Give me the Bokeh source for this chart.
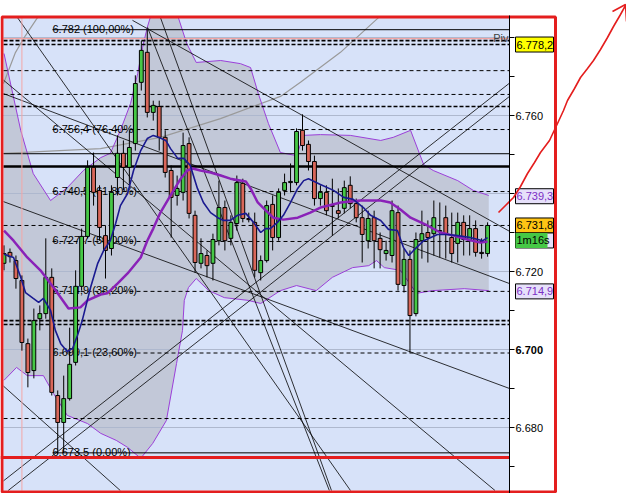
import numpy as np
from bokeh.plotting import figure
from bokeh.models import Range1d, LinearAxis, FixedTicker, NumeralTickFormatter
from bokeh.core.properties import value
from bokeh.embed import file_html
from bokeh.resources import INLINE

# ---------------- candle data (bar index = position) ----------------
opens = [6.7221, 6.7249, 6.7228, 6.7177, 6.7015, 6.6946, 6.7079, 6.7092, 6.7185, 6.6882,
         6.6813, 6.6874, 6.6967, 6.7162, 6.7290, 6.7467, 6.7408, 6.7292, 6.7259, 6.7441,
         6.7503, 6.7467, 6.7528, 6.7685, 6.7762, 6.7608, 6.7623, 6.7544, 6.7459, 6.7395,
         6.7403, 6.7528, 6.7344, 6.7221, 6.7241, 6.7221, 6.7279, 6.7364, 6.7285, 6.7323,
         6.7426, 6.7336, 6.7326, 6.7197, 6.7228, 6.7372, 6.7287, 6.7408, 6.7428, 6.7428,
         6.7562, 6.7526, 6.7482, 6.7387, 6.7403, 6.7369, 6.7356, 6.7362, 6.7421, 6.7374,
         6.7338, 6.7279, 6.7338, 6.7285, 6.7246, 6.7241, 6.7351, 6.7164, 6.7231, 6.7092,
         6.7279, 6.7300, 6.7297, 6.7305, 6.7338, 6.7287, 6.7272, 6.7326, 6.7279, 6.7310,
         6.7249, 6.7246]
highs = [6.7267, 6.7259, 6.7241, 6.7190, 6.7028, 6.7105, 6.7113, 6.7285, 6.7208, 6.6895,
         6.6933, 6.7056, 6.7203, 6.7310, 6.7485, 6.7505, 6.7421, 6.7318, 6.7421, 6.7549,
         6.7536, 6.7562, 6.7703, 6.7792, 6.7821, 6.7638, 6.7638, 6.7562, 6.7472, 6.7446,
         6.7556, 6.7544, 6.7356, 6.7285, 6.7254, 6.7297, 6.7433, 6.7382, 6.7344, 6.7446,
         6.7438, 6.7351, 6.7351, 6.7241, 6.7382, 6.7395, 6.7413, 6.7451, 6.7477, 6.7567,
         6.7603, 6.7536, 6.7497, 6.7421, 6.7421, 6.7438, 6.7413, 6.7433, 6.7444, 6.7387,
         6.7369, 6.7356, 6.7356, 6.7300, 6.7279, 6.7382, 6.7369, 6.7259, 6.7254, 6.7300,
         6.7356, 6.7331, 6.7382, 6.7377, 6.7369, 6.7351, 6.7351, 6.7344, 6.7344, 6.7331,
         6.7285, 6.7326]
lows = [6.7203, 6.7223, 6.7156, 6.6997, 6.6903, 6.6926, 6.7049, 6.7079, 6.6882, 6.6733,
        6.6735, 6.6869, 6.6959, 6.7151, 6.7285, 6.7369, 6.7279, 6.7182, 6.7241, 6.7395,
        6.7408, 6.7421, 6.7510, 6.7664, 6.7595, 6.7587, 6.7510, 6.7441, 6.7287, 6.7369,
        6.7382, 6.7336, 6.7197, 6.7208, 6.7185, 6.7177, 6.7267, 6.7254, 6.7267, 6.7305,
        6.7326, 6.7326, 6.7185, 6.7177, 6.7223, 6.7254, 6.7279, 6.7395, 6.7403, 6.7421,
        6.7510, 6.7459, 6.7369, 6.7369, 6.7344, 6.7292, 6.7336, 6.7349, 6.7362, 6.7326,
        6.7223, 6.7259, 6.7208, 6.7208, 6.7228, 6.7223, 6.7151, 6.7146, 6.6992, 6.7085,
        6.7233, 6.7223, 6.7241, 6.7236, 6.7233, 6.7223, 6.7223, 6.7241, 6.7241, 6.7238,
        6.7233, 6.7238]
closes = [6.7246, 6.7238, 6.7182, 6.7018, 6.6941, 6.7074, 6.7092, 6.7185, 6.6890, 6.6813,
          6.6874, 6.6962, 6.7162, 6.7290, 6.7467, 6.7403, 6.7313, 6.7254, 6.7403, 6.7503,
          6.7467, 6.7518, 6.7682, 6.7767, 6.7608, 6.7626, 6.7544, 6.7454, 6.7390, 6.7413,
          6.7523, 6.7349, 6.7223, 6.7246, 6.7215, 6.7282, 6.7364, 6.7279, 6.7326, 6.7428,
          6.7336, 6.7333, 6.7203, 6.7228, 6.7369, 6.7287, 6.7403, 6.7428, 6.7431, 6.7559,
          6.7523, 6.7482, 6.7387, 6.7403, 6.7356, 6.7367, 6.7349, 6.7415, 6.7374, 6.7338,
          6.7295, 6.7336, 6.7279, 6.7256, 6.7254, 6.7356, 6.7167, 6.7231, 6.7087, 6.7282,
          6.7297, 6.7287, 6.7338, 6.7303, 6.7297, 6.7246, 6.7326, 6.7282, 6.7310, 6.7249,
          6.7246, 6.7318]

# ---------------- indicators (bar, price) ----------------
ma_fast_x = [0, 1.6, 2.8, 3.6, 4.9, 5.8, 6.6, 7.8, 8.6, 9.5, 10.6, 11.5, 12.3, 13.1, 14.5, 15.7,
             16.7, 17.8, 18.7, 19.5, 20.7, 21.7, 22.9, 24.0, 25.0, 25.9, 27.1, 27.9, 29.1, 30.1,
             31.2, 32.4, 33.4, 34.6, 35.8, 36.8, 37.9, 39.1, 40.5, 41.8, 43.0, 43.8, 44.6, 45.8,
             46.8, 48.0, 49.2, 50.2, 51.0, 53.0, 55.2, 56.9, 58.5, 60.2, 61.4, 63.1, 64.4, 65.9,
             66.9, 67.8, 68.6, 70.3, 72.6, 74.3, 76.0, 78.1, 80.2, 81.0]
ma_fast_y = [6.7244, 6.7236, 6.7185, 6.7146, 6.7131, 6.7121, 6.7131, 6.7100, 6.7049, 6.7015,
             6.6995, 6.7003, 6.7036, 6.7074, 6.7159, 6.7221, 6.7254, 6.7279, 6.7323, 6.7369,
             6.7400, 6.7459, 6.7510, 6.7541, 6.7549, 6.7544, 6.7536, 6.7515, 6.7490, 6.7490,
             6.7472, 6.7413, 6.7377, 6.7351, 6.7338, 6.7331, 6.7331, 6.7344, 6.7349, 6.7326,
             6.7300, 6.7310, 6.7310, 6.7326, 6.7344, 6.7377, 6.7413, 6.7433, 6.7438, 6.7423,
             6.7408, 6.7390, 6.7385, 6.7364, 6.7344, 6.7331, 6.7308, 6.7305, 6.7262, 6.7241,
             6.7254, 6.7279, 6.7295, 6.7295, 6.7292, 6.7287, 6.7279, 6.7287]

ma_slow_x = [0, 1.6, 3.9, 6.1, 8.3, 10.8, 12.8, 14.0, 16.2, 17.3, 19.0, 20.7, 22.9, 24.0, 25.0,
             26.2, 27.9, 29.6, 30.7, 31.6, 32.9, 34.6, 36.3, 37.9, 40.5, 41.3, 42.5, 43.5, 45.1,
             46.8, 49.2, 51.3, 53.0, 56.4, 59.7, 63.1, 64.7, 66.4, 68.1, 70.9, 73.1, 75.3, 77.6,
             79.8, 81.0]
ma_slow_y = [6.7305, 6.7279, 6.7236, 6.7203, 6.7159, 6.7105, 6.7108, 6.7126, 6.7141, 6.7144,
             6.7169, 6.7195, 6.7236, 6.7279, 6.7310, 6.7351, 6.7395, 6.7438, 6.7459, 6.7464,
             6.7459, 6.7454, 6.7446, 6.7438, 6.7431, 6.7413, 6.7377, 6.7362, 6.7338, 6.7333,
             6.7338, 6.7351, 6.7364, 6.7377, 6.7382, 6.7382, 6.7377, 6.7359, 6.7338, 6.7318,
             6.7300, 6.7292, 6.7282, 6.7274, 6.7277]

bb_up_x = [0, 2.8, 4.9, 7.8, 10.6, 13.3, 16.2, 17.8, 19.5, 21.2, 22.4, 23.2, 24.0, 24.5, 27.1,
           29.2, 30.6, 32.2, 36.3, 39.6, 41.3, 42.6, 44.3, 46.3, 49.0, 50.2, 53.0, 58.0, 63.1,
           65.2, 68.1, 70.3, 71.9, 76.0, 78.6, 81.2]
bb_up_y = [6.7759, 6.7562, 6.7451, 6.7382, 6.7415, 6.7459, 6.7492, 6.7503, 6.7562, 6.7631,
           6.7708, 6.7774, 6.7826, 6.7864, 6.7882, 6.7864, 6.7785, 6.7736, 6.7741, 6.7733,
           6.7723, 6.7656, 6.7579, 6.7505, 6.7497, 6.7549, 6.7551, 6.7549, 6.7536, 6.7544,
           6.7562, 6.7474, 6.7459, 6.7433, 6.7408, 6.7395]

bb_lo_x = [0, 2.1, 3.9, 6.6, 8.3, 10.6, 14.0, 16.2, 18.8, 20.7, 22.9, 24.9, 27.2, 28.9, 29.9,
           30.2, 30.9, 32.2, 34.3, 36.9, 40.9, 43.0, 46.3, 49.0, 52.3, 55.0, 58.4, 61.1, 62.4,
           63.7, 66.4, 69.1, 71.8, 77.1, 81.2]
bb_lo_y = [6.6921, 6.6954, 6.6933, 6.6933, 6.6887, 6.6831, 6.6810, 6.6785, 6.6767, 6.6749,
           6.6721, 6.6759, 6.6818, 6.6964, 6.7049, 6.7126, 6.7159, 6.7182, 6.7151, 6.7133,
           6.7126, 6.7118, 6.7151, 6.7164, 6.7151, 6.7185, 6.7210, 6.7215, 6.7228, 6.7210,
           6.7203, 6.7144, 6.7151, 6.7156, 6.7151]

# ---------------- drawing objects ----------------
fib_prices = [6.7820, 6.7564, 6.7405, 6.7277, 6.7149, 6.6991, 6.6735]
fib_labels = ["6.782 (100,00%)", "6.756,4 (76,40%)", "6.740,5 (61,80%)", "6.727,7 (50,00%)",
              "6.714,9 (38,20%)", "6.699,1 (23,60%)", "6.673,5 (0,00%)"]

lvl_dashed_thin = [6.7715, 6.7654, 6.7318, 6.6823]
lvl_dashed_thick = [6.7792, 6.7782, 6.7623, 6.7074, 6.7064]
lvl_solid_thin = [6.7502]
lvl_solid_thick = [6.7469]
pivot_price = 6.7797
red_level = 6.6723
session_bar = 3.0

# trend / fan lines: (bar0, price0, bar1, price1)
trend_lines = [
    (-0.59, 6.7382, 84.68, 6.6900),
    (-0.59, 6.7659, 84.68, 6.7169),
    (21.52, 6.7844, 84.68, 6.7303),
    (24.04, 6.7826, 54.69, 6.6631),
    (2.26, 6.7851, 58.38, 6.6631),
    (-0.59, 6.7697, 82.83, 6.6631),
    (-2.76, 6.6631, 84.84, 6.7685),
    (0.08, 6.6631, 84.84, 6.7651),
    (26.21, 6.7851, 55.03, 6.6631),
    (-0.59, 6.6913, 19.51, 6.6638),
]
arc_big_x = [-0.08, 16.16, 26.21, 36.26, 46.31, 49.66, 56.36, 62.73]
arc_big_y = [6.7503, 6.7515, 6.7544, 6.7592, 6.7649, 6.7685, 6.7762, 6.7851]
arc_small_x = [-0.08, 1.93, 3.60, 5.61]
arc_small_y = [6.7682, 6.7762, 6.7805, 6.7851]

axis_ticks = [6.68, 6.70, 6.72, 6.74, 6.76, 6.78]
axis_minor = [6.67, 6.69, 6.71, 6.73, 6.75, 6.77]

box_prices = [6.7782, 6.7393, 6.7318, 6.7149]
box_texts = ["6.778,2", "6.739,3", "6.731,8", "6.714,9"]
box_fill = ["#FFFF00", "#E6E0FA", "#FFC414", "#E6E0FA"]
box_text_color = ["black", "#7B2FC4", "black", "#7B2FC4"]
timer_text = "1m16s"

# ---------------- pixel layout helpers ----------------
PX_BAR = 5.97
BAR0_PX = 3.5
PX_UNIT = 3900.0
P_REF, Y_REF = 6.700, 349.0
W, H = 626, 493


def bx(x):
    return (x - BAR0_PX) / PX_BAR


def py(y):
    return P_REF + (Y_REF - y) / PX_UNIT


PXP = 1.0 / PX_UNIT
XMIN, XMAX = bx(3), bx(509)
YMIN, YMAX = py(490), py(17)


def clip_seg(x0, y0, x1, y1):
    dx, dy = x1 - x0, y1 - y0
    t0, t1 = 0.0, 1.0
    for p_, q_ in ((-dx, x0 - XMIN), (dx, XMAX - x0), (-dy, y0 - YMIN), (dy, YMAX - y0)):
        if p_ == 0:
            if q_ < 0:
                return None
        else:
            t = q_ / p_
            if p_ < 0:
                t0 = max(t0, t)
            else:
                t1 = min(t1, t)
    if t0 > t1:
        return None
    return (x0 + t0 * dx, y0 + t0 * dy, x0 + t1 * dx, y0 + t1 * dy)


FONT = value("Liberation Sans")

p = figure(width=W, height=H, x_range=Range1d(bx(0), bx(W)), y_range=Range1d(py(H), py(0)),
           output_backend="svg", toolbar_location=None, tools="",
           x_axis_location=None, y_axis_location=None, min_border=0,
           background_fill_color="white", border_fill_color="white", outline_line_color=None)
p.grid.visible = False

# chart background
p.quad(left=[XMIN], right=[XMAX], bottom=[YMIN], top=[YMAX], fill_color="#D7E2F9", line_color=None)

# Bollinger band fill
up_y = np.clip(bb_up_y, YMIN, YMAX)
lo_y = np.clip(bb_lo_y, YMIN, YMAX)
band_x = list(bb_up_x) + list(bb_lo_x[::-1])
band_y = list(up_y) + list(lo_y[::-1])
band_x = [max(v, XMIN) for v in band_x]
p.patch(band_x, band_y, fill_color="#C2C8D8", line_color=None)

# faint grid at labelled ticks
p.segment(x0=[XMIN] * len(axis_ticks), y0=axis_ticks, x1=[XMAX] * len(axis_ticks), y1=axis_ticks,
          line_color="#AEB8CE", line_width=1)

# gray arcs
p.line([max(v, XMIN) for v in arc_big_x], arc_big_y, line_color="#9A9A9A", line_width=1.2)
p.line([max(v, XMIN) for v in arc_small_x], arc_small_y, line_color="#9A9A9A", line_width=1.2)

# band lines
p.line([max(v, XMIN) for v in bb_up_x], up_y, line_color="#9B3FD8", line_width=1)
p.line([max(v, XMIN) for v in bb_lo_x], lo_y, line_color="#9B3FD8", line_width=1)


def hlines(prices, x0, **kw):
    p.segment(x0=[x0] * len(prices), y0=prices, x1=[XMAX] * len(prices), y1=prices, **kw)


hlines([pivot_price], XMIN, line_color="#F2A4A4", line_width=1.2)
hlines(lvl_dashed_thin, XMIN, line_color="black", line_width=1, line_dash="4 3")
hlines(lvl_dashed_thick, XMIN, line_color="black", line_width=1.6, line_dash="4 2")
hlines(lvl_solid_thin, XMIN, line_color="black", line_width=1)
hlines(lvl_solid_thick, XMIN, line_color="black", line_width=2.5)
hlines([fib_prices[0], fib_prices[-1]], bx(52), line_color="black", line_width=1)
hlines(fib_prices[1:-1], bx(52), line_color="black", line_width=1, line_dash="4 3")

# fib labels
p.text(x=[bx(52)] * len(fib_prices), y=fib_prices, text=fib_labels, text_font=FONT,
       text_font_size="11px", text_color="black", text_baseline="alphabetic", y_offset=-1)
p.text(x=[bx(508)], y=[pivot_price], text=["Piv"], text_font=FONT, text_font_size="11px",
       text_color="#404040", text_align="right", text_baseline="alphabetic", y_offset=-1)

# trend lines
segs = [clip_seg(*tl) for tl in trend_lines]
segs = [s for s in segs if s is not None]
p.segment(x0=[s[0] for s in segs], y0=[s[1] for s in segs], x1=[s[2] for s in segs],
          y1=[s[3] for s in segs], line_color="black", line_width=0.8)

# session line
p.segment(x0=[session_bar], y0=[YMIN], x1=[session_bar], y1=[YMAX], line_color="#F4A6A6", line_width=1)

# candles
bars = list(range(len(opens)))
up = [c >= o for o, c in zip(opens, closes)]
p.segment(x0=bars, y0=highs, x1=bars, y1=lows, line_color="black", line_width=1)
p.vbar(x=bars, width=0.64, top=[max(o, c) for o, c in zip(opens, closes)],
       bottom=[min(o, c) for o, c in zip(opens, closes)],
       fill_color=["#46C846" if u else "#D9675A" for u in up], line_color="black", line_width=1)

# moving averages
p.line(ma_slow_x, ma_slow_y, line_color="#8A22B8", line_width=2.5)
p.line(ma_fast_x, ma_fast_y, line_color="#1A1A90", line_width=1.6)

# red level line
p.segment(x0=[bx(0)], y0=[red_level], x1=[XMAX], y1=[red_level], line_color="#E41E1E", line_width=3)

# red frame
p.quad(left=[bx(1.5)], right=[bx(555)], top=[py(16.5)], bottom=[py(491.5)], fill_color=None,
       line_color="#E41E1E", line_width=3)

# right axis
ax = LinearAxis(fixed_location=XMAX, bounds=(py(H), py(15)),
                ticker=FixedTicker(ticks=axis_ticks, minor_ticks=axis_minor),
                formatter=NumeralTickFormatter(format="0.000"),
                major_label_overrides={6.74: "", 6.78: "", 6.70: ""},
                major_tick_out=5, major_tick_in=0, minor_tick_out=5, minor_tick_in=0,
                major_label_standoff=1, axis_line_color="black", major_tick_line_color="black",
                minor_tick_line_color="black", major_label_text_font="Liberation Sans",
                major_label_text_font_size="11px", major_label_text_color="black")
p.add_layout(ax, "right")
p.text(x=[bx(515)], y=[6.700], text=["6.700"], text_font=FONT, text_font_size="11px",
       text_font_style="bold", text_color="black", text_baseline="middle")

# value boxes
HALF = 7.5 * PXP
bl, br = bx(515), bx(553)
p.quad(left=[bl] * 4, right=[br] * 4, top=[v + HALF for v in box_prices],
       bottom=[v - HALF for v in box_prices], fill_color=box_fill, line_color="black", line_width=1)
p.text(x=[bx(516)] * 4, y=box_prices, text=box_texts, text_font=FONT, text_font_size="11px",
       text_color=box_text_color, text_baseline="middle")
timer_c = closes[-1] - 15 * PXP
p.quad(left=[bl], right=[br], top=[timer_c + HALF], bottom=[timer_c - HALF],
       fill_color="#E6E0FA", line_color="black", line_width=1)
p.quad(left=[bl], right=[bx(547)], top=[timer_c + HALF], bottom=[timer_c - HALF],
       fill_color="#46C846", line_color=None)
p.text(x=[bx(516)], y=[timer_c], text=[timer_text], text_font=FONT, text_font_size="11px",
       text_color="black", text_baseline="middle")

# hand-drawn red arrow (screen annotation)
arrow_px = [(498, 212), (505, 205), (513, 197), (520, 186), (527, 173), (534, 162), (540, 152),
            (549, 140), (557, 123), (563, 110), (567, 100), (574, 88), (580, 77), (587, 68),
            (593, 60), (600, 49), (607, 37), (613, 26), (620, 14), (625, 5)]
head_px = [(612, 11), (625, 4), (626, 21)]
p.line([bx(a) for a, b in arrow_px], [py(b) for a, b in arrow_px], line_color="#E41E1E", line_width=1.6)
p.line([bx(a) for a, b in head_px], [py(b) for a, b in head_px], line_color="#E41E1E", line_width=1.6)

open("out.html", "w").write(file_html(p, INLINE))
